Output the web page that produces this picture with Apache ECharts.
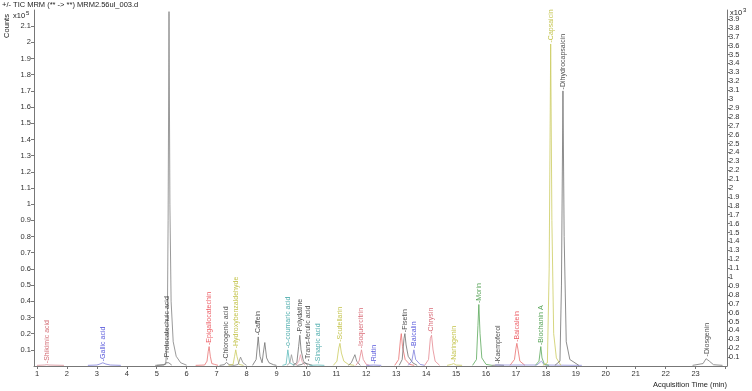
<!DOCTYPE html>
<html>
<head>
<meta charset="utf-8">
<script src="https://cdn.jsdelivr.net/npm/echarts@6/dist/echarts.min.js"></script>
<style>
html, body { margin: 0; padding: 0; background: #fff; }
#chart { width: 752px; height: 391px; }
</style>
</head>
<body>
<div id="chart"></div>
<script>
// MRM traces: [time (min), counts x10^5]
const shikimic = [[1.0, 0.004], [1.25, 0.006], [1.33, 0.008], [1.4, 0.006], [1.9, 0.004]]
const gallic = [[2.7, 0.004], [3.0, 0.006], [3.1, 0.012], [3.2, 0.02], [3.3, 0.012], [3.45, 0.006], [3.8, 0.004]]
const protoSmall = [[4.95, 0.004], [5.25, 0.006], [5.3, 0.02], [5.35, 0.03], [5.4, 0.02], [5.5, 0.006]]
const protoBig = [[5.0, 0.004], [5.3, 0.01], [5.35, 0.15], [5.38, 0.9], [5.41, 2.19], [5.44, 1.0], [5.48, 0.4], [5.55, 0.15], [5.65, 0.06], [5.8, 0.02], [6.0, 0.005]]
const epigallo = [[6.3, 0.004], [6.6, 0.006], [6.68, 0.03], [6.72, 0.09], [6.75, 0.12], [6.79, 0.06], [6.84, 0.015], [6.88, 0.025], [6.93, 0.01], [7.05, 0.004]]
const chlorogenic = [[7.1, 0.004], [7.25, 0.008], [7.33, 0.022], [7.42, 0.008], [7.6, 0.004]]
const hydroxy = [[7.4, 0.004], [7.55, 0.01], [7.6, 0.06], [7.64, 0.1], [7.68, 0.06], [7.75, 0.01], [7.9, 0.004]]
const grey78 = [[7.6, 0.004], [7.72, 0.01], [7.8, 0.055], [7.88, 0.02], [8.0, 0.004]]
const caffein = [[8.2, 0.004], [8.32, 0.04], [8.39, 0.18], [8.45, 0.06], [8.52, 0.02], [8.56, 0.08], [8.61, 0.145], [8.67, 0.05], [8.75, 0.02], [8.9, 0.008], [9.0, 0.004]]
const coumaric = [[9.2, 0.004], [9.32, 0.01], [9.38, 0.1], [9.44, 0.02], [9.6, 0.004]]
const grey95 = [[9.35, 0.004], [9.45, 0.02], [9.5, 0.07], [9.56, 0.02], [9.7, 0.004]]
const polydatine = [[9.55, 0.004], [9.68, 0.02], [9.74, 0.12], [9.78, 0.19], [9.82, 0.1], [9.9, 0.03], [10.05, 0.004]]
const pink98 = [[9.65, 0.004], [9.75, 0.03], [9.8, 0.07], [9.85, 0.03], [9.95, 0.004]]
const ferulic = [[9.7, 0.004], [9.85, 0.01], [9.92, 0.02], [9.98, 0.01], [10.2, 0.004]]
const sinapic = [[10.1, 0.004], [10.38, 0.006], [10.6, 0.004]]
const scutellarin = [[10.9, 0.004], [11.02, 0.03], [11.08, 0.11], [11.12, 0.14], [11.17, 0.08], [11.25, 0.03], [11.4, 0.01], [11.6, 0.004]]
const grey116 = [[11.4, 0.004], [11.5, 0.02], [11.55, 0.03], [11.62, 0.07], [11.68, 0.03], [11.8, 0.004]]
const isoquercitrin = [[11.65, 0.004], [11.76, 0.03], [11.84, 0.1], [11.9, 0.04], [12.0, 0.01], [12.1, 0.004]]
const rutin = [[12.0, 0.004], [12.25, 0.006], [12.5, 0.004]]
const red132 = [[12.95, 0.004], [13.08, 0.04], [13.14, 0.16], [13.17, 0.2], [13.21, 0.12], [13.3, 0.04], [13.45, 0.01], [13.6, 0.004]]
const fisetin = [[13.1, 0.004], [13.2, 0.04], [13.26, 0.17], [13.29, 0.2], [13.33, 0.13], [13.4, 0.06], [13.55, 0.02], [13.7, 0.004]]
const baicalin = [[13.4, 0.004], [13.52, 0.03], [13.59, 0.1], [13.65, 0.04], [13.8, 0.01], [13.95, 0.004]]
const chrysin = [[13.95, 0.004], [14.08, 0.04], [14.14, 0.17], [14.18, 0.19], [14.23, 0.1], [14.3, 0.03], [14.45, 0.004]]
const naringenin = [[14.7, 0.004], [14.85, 0.01], [14.92, 0.015], [15.0, 0.006], [15.2, 0.004]]
const morin = [[15.55, 0.004], [15.68, 0.04], [15.73, 0.25], [15.76, 0.38], [15.8, 0.2], [15.86, 0.05], [16.0, 0.01], [16.2, 0.004]]
const kaempferol = [[16.2, 0.004], [16.4, 0.006], [16.6, 0.004]]
const baicalein = [[16.8, 0.004], [16.95, 0.04], [17.0, 0.11], [17.03, 0.14], [17.07, 0.1], [17.13, 0.03], [17.3, 0.004]]
const blueBase = [[16.3, 0.006], [17.7, 0.006], [17.85, 0.03], [17.95, 0.006], [19.2, 0.004]]
const biochanin = [[17.65, 0.004], [17.77, 0.03], [17.83, 0.12], [17.87, 0.05], [17.95, 0.01], [18.1, 0.004]]
const capsaicin = [[17.9, 0.004], [18.05, 0.02], [18.11, 0.6], [18.16, 1.99], [18.2, 0.9], [18.26, 0.2], [18.35, 0.05], [18.5, 0.004]]
const dihydro = [[18.3, 0.004], [18.47, 0.03], [18.52, 0.5], [18.57, 1.7], [18.61, 0.8], [18.68, 0.15], [18.8, 0.04], [19.1, 0.004]]
const diosgenin = [[22.9, 0.004], [23.25, 0.015], [23.35, 0.045], [23.4, 0.05], [23.46, 0.03], [23.6, 0.008], [23.9, 0.004]]

const traces = [shikimic, gallic, protoSmall, protoBig, epigallo, chlorogenic, hydroxy, grey78, caffein,
  coumaric, grey95, polydatine, pink98, ferulic, sinapic, scutellarin, grey116, isoquercitrin, rutin,
  red132, fisetin, baicalin, chrysin, naringenin, morin, kaempferol, baicalein, blueBase, biochanin,
  capsaicin, dihydro, diosgenin]
const traceColors = ['#d88c94', '#8080dc', '#707070', '#808080', '#e87474', '#707070', '#cccc60', '#8a8a8a', '#707070',
  '#60bcbc', '#999', '#707070', '#eca0ac', '#707070', '#60bcbc', '#cccc60', '#7a7a7a', '#e48890', '#8080dc',
  '#ea7070', '#707070', '#8080dc', '#e48890', '#cccc60', '#5aa85a', '#707070', '#ea7070', '#9090dc', '#5aa85a',
  '#cccc60', '#707070', '#7a7a7a']

// peak labels
const peakNames = ['Shikimic acid', 'Gallic acid', 'Protocatechuic acid', 'Epigallocatechin', 'Chlorogenic acid',
  'Hydroxybenzaldehyde', 'Caffein', 'o-coumaric acid', 'Polydatine', 'Trans-ferulic acid', 'Sinapic acid',
  'Scutellarin', 'Isoquercitrin', 'Rutin', 'Fisetin', 'Baicalin', 'Chrysin', 'Naringenin', 'Morin',
  'Kaempferol', 'Baicalein', 'Biochanin A', 'Capsaicin', 'Dihydrocapsaicin', 'Diosgenin']
const peakTimes = [1.33, 3.2, 5.35, 6.75, 7.33, 7.64, 8.39, 9.38, 9.78, 10.05, 10.38, 11.12, 11.84, 12.25,
  13.29, 13.59, 14.18, 14.92, 15.76, 16.4, 17.03, 17.83, 18.16, 18.57, 23.4]
const peakHeights = [0.008, 0.02, 0.03, 0.12, 0.022, 0.1, 0.18, 0.1, 0.19, 0.02, 0.006, 0.14, 0.1, 0.006,
  0.2, 0.1, 0.19, 0.015, 0.38, 0.006, 0.14, 0.12, 1.99, 1.7, 0.05]
const peakColors = ['#c84650', '#2d2dd2', '#222', '#e8323c', '#222', '#b4b41e', '#222', '#1e9696', '#222',
  '#222', '#1e9696', '#b4b41e', '#d04858', '#2d2dd2', '#222', '#2d2dd2', '#d04858', '#b4b41e', '#2d8c2d',
  '#222', '#e8323c', '#2d8c2d', '#b4b41e', '#222', '#222']

// axis ticks
const xTicks = [1, 2, 3, 4, 5, 6, 7, 8, 9, 10, 11, 12, 13, 14, 15, 16, 17, 18, 19, 20, 21, 22, 23, 24]
const xLabels = [1, 2, 3, 4, 5, 6, 7, 8, 9, 10, 11, 12, 13, 14, 15, 16, 17, 18, 19, 20, 21, 22, 23]
const leftLabels = [0.1, 0.2, 0.3, 0.4, 0.5, 0.6, 0.7, 0.8, 0.9, 1, 1.1, 1.2, 1.3, 1.4, 1.5, 1.6, 1.7,
  1.8, 1.9, 2, 2.1]
const rightLabels = [0.1, 0.2, 0.3, 0.4, 0.5, 0.6, 0.7, 0.8, 0.9, 1, 1.1, 1.2, 1.3, 1.4, 1.5, 1.6, 1.7,
  1.8, 1.9, 2, 2.1, 2.2, 2.3, 2.4, 2.5, 2.6, 2.7, 2.8, 2.9, 3, 3.1, 3.2, 3.3, 3.4, 3.5, 3.6, 3.7, 3.8, 3.9]

const font = 'Liberation Sans, Arial, sans-serif'
const axisColor = '#777'

const chart = echarts.init(document.getElementById('chart'), null, { renderer: 'canvas' })

const series = traces.map((t, i) => ({
  type: 'line',
  data: t,
  symbol: 'none',
  silent: true,
  lineStyle: { width: 0.8, color: traceColors[i] },
  z: 2
}))

// 峰名标签 (竖排)
series.push({
  type: 'scatter',
  symbolSize: 1,
  silent: true,
  itemStyle: { color: 'transparent' },
  data: peakNames.map((n, i) => ({
    value: [peakTimes[i], peakHeights[i]],
    label: {
      show: true,
      formatter: '-' + n,
      color: peakColors[i]
    }
  })),
  label: {
    position: 'top',
    distance: 1,
    rotate: 90,
    align: 'left',
    verticalAlign: 'middle',
    fontSize: 7,
    fontFamily: font
  },
  z: 5
})

const option = {
  animation: false,
  backgroundColor: '#fff',
  grid: { left: 34, right: 25, top: 10, bottom: 25 },
  xAxis: {
    type: 'value',
    min: 0.9,
    max: 24.05,
    axisLine: { lineStyle: { color: axisColor, width: 1 } },
    axisTick: { length: 3, customValues: xTicks, lineStyle: { color: axisColor } },
    axisLabel: { customValues: xLabels, fontSize: 7.5, color: '#333', fontFamily: font, margin: 4 },
    splitLine: { show: false }
  },
  yAxis: [
    {
      type: 'value',
      min: 0,
      max: 2.2,
      axisLine: { show: true, lineStyle: { color: axisColor } },
      axisTick: { show: true, length: 3, customValues: leftLabels, lineStyle: { color: axisColor } },
      axisLabel: { customValues: leftLabels, fontSize: 7.5, color: '#333', fontFamily: font, margin: 3 },
      splitLine: { show: false }
    },
    {
      type: 'value',
      min: 0,
      max: 4,
      position: 'right',
      axisLine: { show: true, lineStyle: { color: axisColor } },
      axisTick: { show: true, length: 3, customValues: rightLabels, lineStyle: { color: axisColor } },
      axisLabel: { customValues: rightLabels, fontSize: 7.5, color: '#333', fontFamily: font, margin: 2 },
      splitLine: { show: false }
    }
  ],
  graphic: [
    {
      type: 'text', left: 2, top: 1,
      style: { text: '+/- TIC MRM (** -> **) MRM2.56ul_003.d', fontSize: 7.5, fontFamily: font, fill: '#222' }
    },
    {
      type: 'text', x: 7, y: 26, rotation: Math.PI / 2,
      style: { text: 'Counts', fontSize: 7.5, fontFamily: font, fill: '#222', align: 'center', verticalAlign: 'middle' }
    },
    {
      type: 'text', x: 13, y: 16,
      style: {
        text: 'x10{s|5}', fontSize: 7.5, fontFamily: font, fill: '#222', verticalAlign: 'middle',
        rich: { s: { fontSize: 6, verticalAlign: 'top', padding: [0, 0, 5, 1], fontFamily: font, fill: '#222' } }
      }
    },
    {
      type: 'text', x: 730, y: 13,
      style: {
        text: 'x10{s|3}', fontSize: 7.5, fontFamily: font, fill: '#222', verticalAlign: 'middle',
        rich: { s: { fontSize: 6, verticalAlign: 'top', padding: [0, 0, 5, 1], fontFamily: font, fill: '#222' } }
      }
    },
    {
      type: 'text', x: 727, y: 385,
      style: { text: 'Acquisition Time (min)', fontSize: 7.5, fontFamily: font, fill: '#222', align: 'right', verticalAlign: 'middle' }
    }
  ],
  series
}

chart.setOption(option)
</script>
</body>
</html>
